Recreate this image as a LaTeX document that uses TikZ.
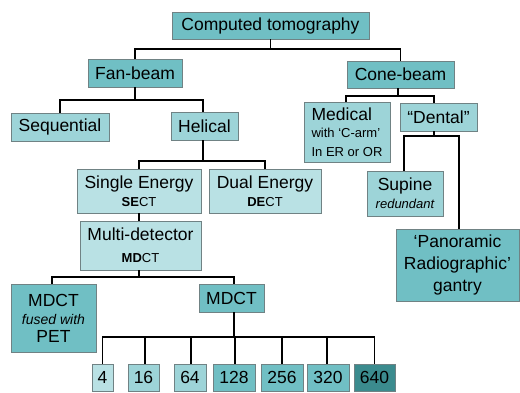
\documentclass[tikz,border=0pt]{standalone}
\usepackage{fontspec}
\setmainfont{Liberation Sans}
\definecolor{tdark}{HTML}{70BFC4}
\definecolor{tmid}{HTML}{9DD4D8}
\definecolor{tlight}{HTML}{B9E1E4}
\definecolor{tdeep}{HTML}{3B8B8E}
\definecolor{boxline}{HTML}{708284}
\newcommand\smalltxt{\fontsize{13}{15}\selectfont}
\begin{document}
\begin{tikzpicture}[x=1pt,y=-1pt,
  box/.style={draw=boxline, line width=0.7pt, inner sep=0pt, align=center,
    font=\fontsize{17.5}{21}\selectfont, text=black},
  link/.style={line width=1.4pt, black, line cap=rect}]
\useasboundingbox (0,0) rectangle (520,392);
% level 0-1
\node[box, fill=tdark, minimum width=197pt, minimum height=27pt] (ct) at (270.5,25.5) {Computed tomography};
\node[box, fill=tdark, minimum width=94pt, minimum height=28pt] (fan) at (135,73) {Fan-beam};
\node[box, fill=tdark, minimum width=107pt, minimum height=27pt] (cone) at (400.5,74.5) {Cone-beam};
% level 2
\node[box, fill=tmid, minimum width=98pt, minimum height=28pt] (seq) at (60,127) {Sequential};
\node[box, fill=tmid, minimum width=67pt, minimum height=28pt] (hel) at (204.5,126) {Helical};
\node[box, fill=tmid, minimum width=86pt, minimum height=60pt, align=left] (med) at (347,132)
  {Medical\\[-4pt]{\smalltxt with ‘C-arm’}\\[-2pt]{\smalltxt In ER or OR}};
\node[box, fill=tmid, minimum width=77pt, minimum height=28pt] (den) at (438.5,117) {“Dental”};
% level 3
\node[box, fill=tlight, minimum width=124pt, minimum height=44pt] (se) at (139,191)
  {Single Energy\\[-3pt]{\smalltxt\textbf{SE}CT}};
\node[box, fill=tlight, minimum width=112pt, minimum height=44pt] (de) at (265,191)
  {Dual Energy\\[-3pt]{\smalltxt\textbf{DE}CT}};
\node[box, fill=tlight, minimum width=121pt, minimum height=49pt] (md) at (140.5,245.5)
  {Multi-detector\\[1pt]{\smalltxt\textbf{MD}CT}};
\node[box, fill=tmid, minimum width=76pt, minimum height=45pt] (sup) at (405,193.5)
  {Supine\\[-3pt]{\smalltxt\itshape redundant}};
\node[box, fill=tdark, minimum width=123pt, minimum height=72pt] (pan) at (457.5,265)
  {‘Panoramic\\[1pt]Radiographic’\\[1pt]gantry};
% level 4
\node[box, fill=tdark, minimum width=85pt, minimum height=68pt] (fus) at (53.5,318)
  {MDCT\\[-3pt]{\fontsize{14}{16}\selectfont\itshape fused with}\\[-3pt]PET};
\node[box, fill=tdark, minimum width=65pt, minimum height=28pt] (mdct) at (231.5,298) {MDCT};
% leaves
\node[box, fill=tlight, minimum width=21pt, minimum height=27pt] (l4) at (102.5,377.5) {4};
\node[box, fill=tmid, minimum width=31pt, minimum height=27pt] (l16) at (143.5,377.5) {16};
\node[box, fill=tmid, minimum width=32pt, minimum height=27pt] (l64) at (190,377.5) {64};
\node[box, fill=tdark, minimum width=42pt, minimum height=27pt] (l128) at (234,377.5) {128};
\node[box, fill=tdark, minimum width=42pt, minimum height=27pt] (l256) at (282,377.5) {256};
\node[box, fill=tdark, minimum width=42pt, minimum height=27pt] (l320) at (328,377.5) {320};
\node[box, fill=tdeep, minimum width=41pt, minimum height=27pt] (l640) at (374.5,377.5) {640};
% bus coordinates
\coordinate (b0) at (270,49);
\coordinate (b1) at (135,100);
\coordinate (b2) at (398,96);
\coordinate (b3) at (203,161);
\coordinate (b4) at (434,136);
\coordinate (b5) at (139,277);
\coordinate (b6) at (234,337);
% connectors
\draw[link] (ct.south) -- (ct.south |- b0);
\draw[link] (fan.north) |- (b0) -| (cone.north);
\draw[link] (fan.south) -- (fan.south |- b1);
\draw[link] (seq.north) |- (b1) -| ([xshift=-1.5pt]hel.north);
\draw[link] ([xshift=-2.5pt]cone.south) -- ([xshift=-2.5pt]cone.south |- b2);
\draw[link] ([xshift=-1pt]med.north) |- (b2) -| ([xshift=-4.5pt]den.north);
\draw[link] ([xshift=-4.5pt]den.south) -- ([xshift=-4.5pt]den.south |- b4);
\draw[link] ([xshift=-1pt]sup.north) |- (b4) -| ([xshift=1.5pt]pan.north);
\draw[link] ([xshift=-1.5pt]hel.south) -- ([xshift=-1.5pt]hel.south |- b3);
\draw[link] (se.north) |- (b3) -| (de.north);
\draw[link] (se.south) -- (se.south |- md.north);
\draw[link] ([xshift=-1.5pt]md.south) -- ([xshift=-1.5pt]md.south |- b5);
\draw[link] ([xshift=-1.5pt]fus.north) |- (b5) -| ([xshift=2.5pt]mdct.north);
\draw[link] ([xshift=2.5pt]mdct.south) -- ([xshift=2.5pt]mdct.south |- b6);
\draw[link] (l4.north) |- (b6) -| (l640.north);
\foreach \l/\d in {l16/1.5,l64/1,l128/1,l256/0,l320/-1}
  \draw[link] ([xshift=\d pt]\l.north) -- ([xshift=\d pt]\l.north |- b6);
\end{tikzpicture}
\end{document}
